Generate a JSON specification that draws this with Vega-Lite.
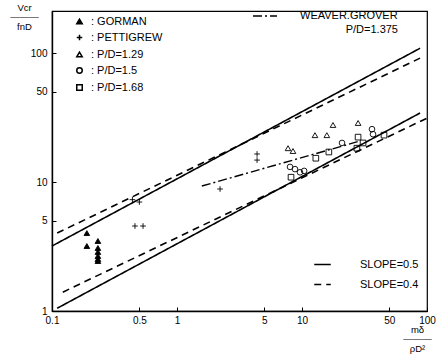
{
  "$schema": "https://vega.github.io/schema/vega-lite/v6.json",
  "width": 375,
  "height": 300,
  "autosize": {"type": "none"},
  "padding": {"left": 52, "top": 11, "right": 16, "bottom": 44},
  "config": {
    "font": "Liberation Sans",
    "view": {"stroke": "black", "strokeWidth": 1.2},
    "axis": {"domainColor": "black", "domainWidth": 1.4, "tickColor": "black", "grid": false, "labelColor": "black", "titleColor": "black", "labelFontSize": 10, "titleFontSize": 9.5, "titleFontWeight": "normal"},
    "legend": {"labelColor": "black", "titleColor": "black", "labelFontSize": 11, "titleFontSize": 11, "titleFontWeight": "normal"}
  },
  "datasets": {
    "points": [
      {"series": "GORMAN", "x": 0.19, "y": 4.02},
      {"series": "GORMAN", "x": 0.19, "y": 3.19},
      {"series": "GORMAN", "x": 0.233, "y": 3.49},
      {"series": "GORMAN", "x": 0.233, "y": 3.08},
      {"series": "GORMAN", "x": 0.233, "y": 2.87},
      {"series": "GORMAN", "x": 0.233, "y": 2.67},
      {"series": "GORMAN", "x": 0.233, "y": 2.53},
      {"series": "GORMAN", "x": 0.233, "y": 2.44},
      {"series": "PETTIGREW", "x": 0.44, "y": 7.3},
      {"series": "PETTIGREW", "x": 0.5, "y": 7.0},
      {"series": "PETTIGREW", "x": 0.461, "y": 4.56},
      {"series": "PETTIGREW", "x": 0.535, "y": 4.56},
      {"series": "PETTIGREW", "x": 2.21, "y": 8.83},
      {"series": "PETTIGREW", "x": 4.37, "y": 16.5},
      {"series": "PETTIGREW", "x": 4.37, "y": 14.8},
      {"series": "P/D=1.29", "x": 7.73, "y": 18.3},
      {"series": "P/D=1.29", "x": 8.47, "y": 17.4},
      {"series": "P/D=1.29", "x": 12.7, "y": 23.1},
      {"series": "P/D=1.29", "x": 15.8, "y": 23.1},
      {"series": "P/D=1.29", "x": 17.7, "y": 27.7},
      {"series": "P/D=1.29", "x": 28.1, "y": 28.7},
      {"series": "P/D=1.5", "x": 8.02, "y": 13.1},
      {"series": "P/D=1.5", "x": 8.79, "y": 12.6},
      {"series": "P/D=1.5", "x": 9.64, "y": 11.9},
      {"series": "P/D=1.5", "x": 10.4, "y": 12.2},
      {"series": "P/D=1.5", "x": 20.9, "y": 20.1},
      {"series": "P/D=1.5", "x": 36.3, "y": 25.7},
      {"series": "P/D=1.5", "x": 37.0, "y": 23.5},
      {"series": "P/D=1.68", "x": 8.17, "y": 10.9},
      {"series": "P/D=1.68", "x": 12.9, "y": 15.3},
      {"series": "P/D=1.68", "x": 16.4, "y": 17.1},
      {"series": "P/D=1.68", "x": 27.5, "y": 18.3},
      {"series": "P/D=1.68", "x": 30.8, "y": 20.1},
      {"series": "P/D=1.68", "x": 28.1, "y": 22.3},
      {"series": "P/D=1.68", "x": 45.3, "y": 23.1}
    ],
    "slopes": [
      {"line": "upper solid", "kind": "SLOPE=0.5", "x": 0.1, "y": 3.19},
      {"line": "upper solid", "kind": "SLOPE=0.5", "x": 88, "y": 109},
      {"line": "upper dashed", "kind": "SLOPE=0.4", "x": 0.11, "y": 4.02},
      {"line": "upper dashed", "kind": "SLOPE=0.4", "x": 88, "y": 91.4},
      {"line": "lower solid", "kind": "SLOPE=0.5", "x": 0.11, "y": 1.05},
      {"line": "lower solid", "kind": "SLOPE=0.5", "x": 88, "y": 34.3},
      {"line": "lower dashed", "kind": "SLOPE=0.4", "x": 0.122, "y": 1.4},
      {"line": "lower dashed", "kind": "SLOPE=0.4", "x": 100, "y": 31.3}
    ],
    "weaver": [
      {"src": "WEAVER.GROVER", "x": 1.58, "y": 9.31},
      {"src": "WEAVER.GROVER", "x": 29.1, "y": 20.8}
    ]
  },
  "encoding": {
    "x": {
      "field": "x", "type": "quantitative",
      "scale": {"type": "log", "domain": [0.1, 100], "nice": false},
      "axis": {
        "values": [0.1, 0.5, 1, 5, 10, 50, 100], "format": "~g",
        "tickSize": -4, "labelPadding": 8, "labelFlush": false,
        "title": ["mδ", "———", "ρD²"], "titleLineHeight": 9.5,
        "titleX": 365, "titleY": 13, "titleAlign": "center", "titleBaseline": "top", "titleAnchor": null
      }
    },
    "y": {
      "field": "y", "type": "quantitative",
      "scale": {"type": "log", "domain": [1, 212], "nice": false},
      "axis": {
        "values": [1, 5, 10, 50, 100], "format": "~g",
        "tickSize": -4, "labelPadding": 9, "labelFlush": false,
        "title": ["Vcr", "———", "fnD"], "titleLineHeight": 9.5, "titleAngle": 0,
        "titleX": -28, "titleY": -9, "titleAlign": "center", "titleBaseline": "top", "titleAnchor": null
      }
    }
  },
  "layer": [
    {
      "data": {"name": "slopes"},
      "mark": {"type": "line", "color": "black", "strokeWidth": 1.6},
      "encoding": {
        "detail": {"field": "line"},
        "strokeDash": {
          "field": "kind", "type": "nominal",
          "scale": {"domain": ["SLOPE=0.5", "SLOPE=0.4"], "range": [[1, 0], [7, 5]]},
          "legend": {
            "orient": "none", "legendX": 264, "legendY": 247, "title": null,
            "symbolType": "M-1.5,0L1.5,0", "symbolSize": 121, "symbolStrokeWidth": 1.5, "symbolStrokeColor": "black",
            "labelOffset": 31, "rowPadding": 8, "labelFontSize": 11
          }
        }
      }
    },
    {
      "data": {"name": "weaver"},
      "mark": {"type": "line", "color": "black", "strokeWidth": 1.4},
      "encoding": {
        "strokeDash": {
          "field": "src", "type": "nominal",
          "scale": {"domain": ["WEAVER.GROVER"], "range": [[9, 3, 2, 3]]},
          "legend": {
            "orient": "none", "legendX": 206, "legendY": -2, "title": "P/D=1.375",
            "titleOrient": "bottom", "titleAnchor": "end", "titlePadding": 3,
            "symbolType": "M-2,0L2,0", "symbolSize": 144, "symbolStrokeWidth": 1.4, "symbolStrokeColor": "black",
            "labelOffset": 28, "labelFontSize": 11
          }
        }
      }
    },
    {
      "data": {"name": "points"},
      "mark": {"type": "point", "stroke": "black", "strokeWidth": 0.9, "opacity": 1, "size": 32},
      "encoding": {
        "shape": {
          "field": "series", "type": "nominal",
          "scale": {"domain": ["GORMAN", "PETTIGREW", "P/D=1.29", "P/D=1.5", "P/D=1.68"], "range": ["triangle-up", "M-1,0L1,0M0,-1L0,1", "triangle-up", "circle", "square"]},
          "legend": {"orient": "none", "legendX": 22, "legendY": 5, "title": null, "labelExpr": "': ' + datum.label", "symbolSize": 30, "labelOffset": 6, "rowPadding": 4, "labelFontSize": 11,
            "encode": {"symbols": {"update": {"stroke": {"value": "black"}, "strokeWidth": {"value": 0.9}}}}}
        },
        "fill": {
          "field": "series", "type": "nominal",
          "scale": {"domain": ["GORMAN", "PETTIGREW", "P/D=1.29", "P/D=1.5", "P/D=1.68"], "range": ["black", "black", "transparent", "transparent", "transparent"]},
          "legend": {"orient": "none", "legendX": 22, "legendY": 5, "title": null, "labelExpr": "': ' + datum.label", "symbolSize": 30, "labelOffset": 6, "rowPadding": 4, "labelFontSize": 11,
            "encode": {"symbols": {"update": {"stroke": {"value": "black"}, "strokeWidth": {"value": 0.9}}}}}
        }
      }
    }
  ],
  "resolve": {"scale": {"strokeDash": "independent"}, "legend": {"strokeDash": "independent"}}
}
